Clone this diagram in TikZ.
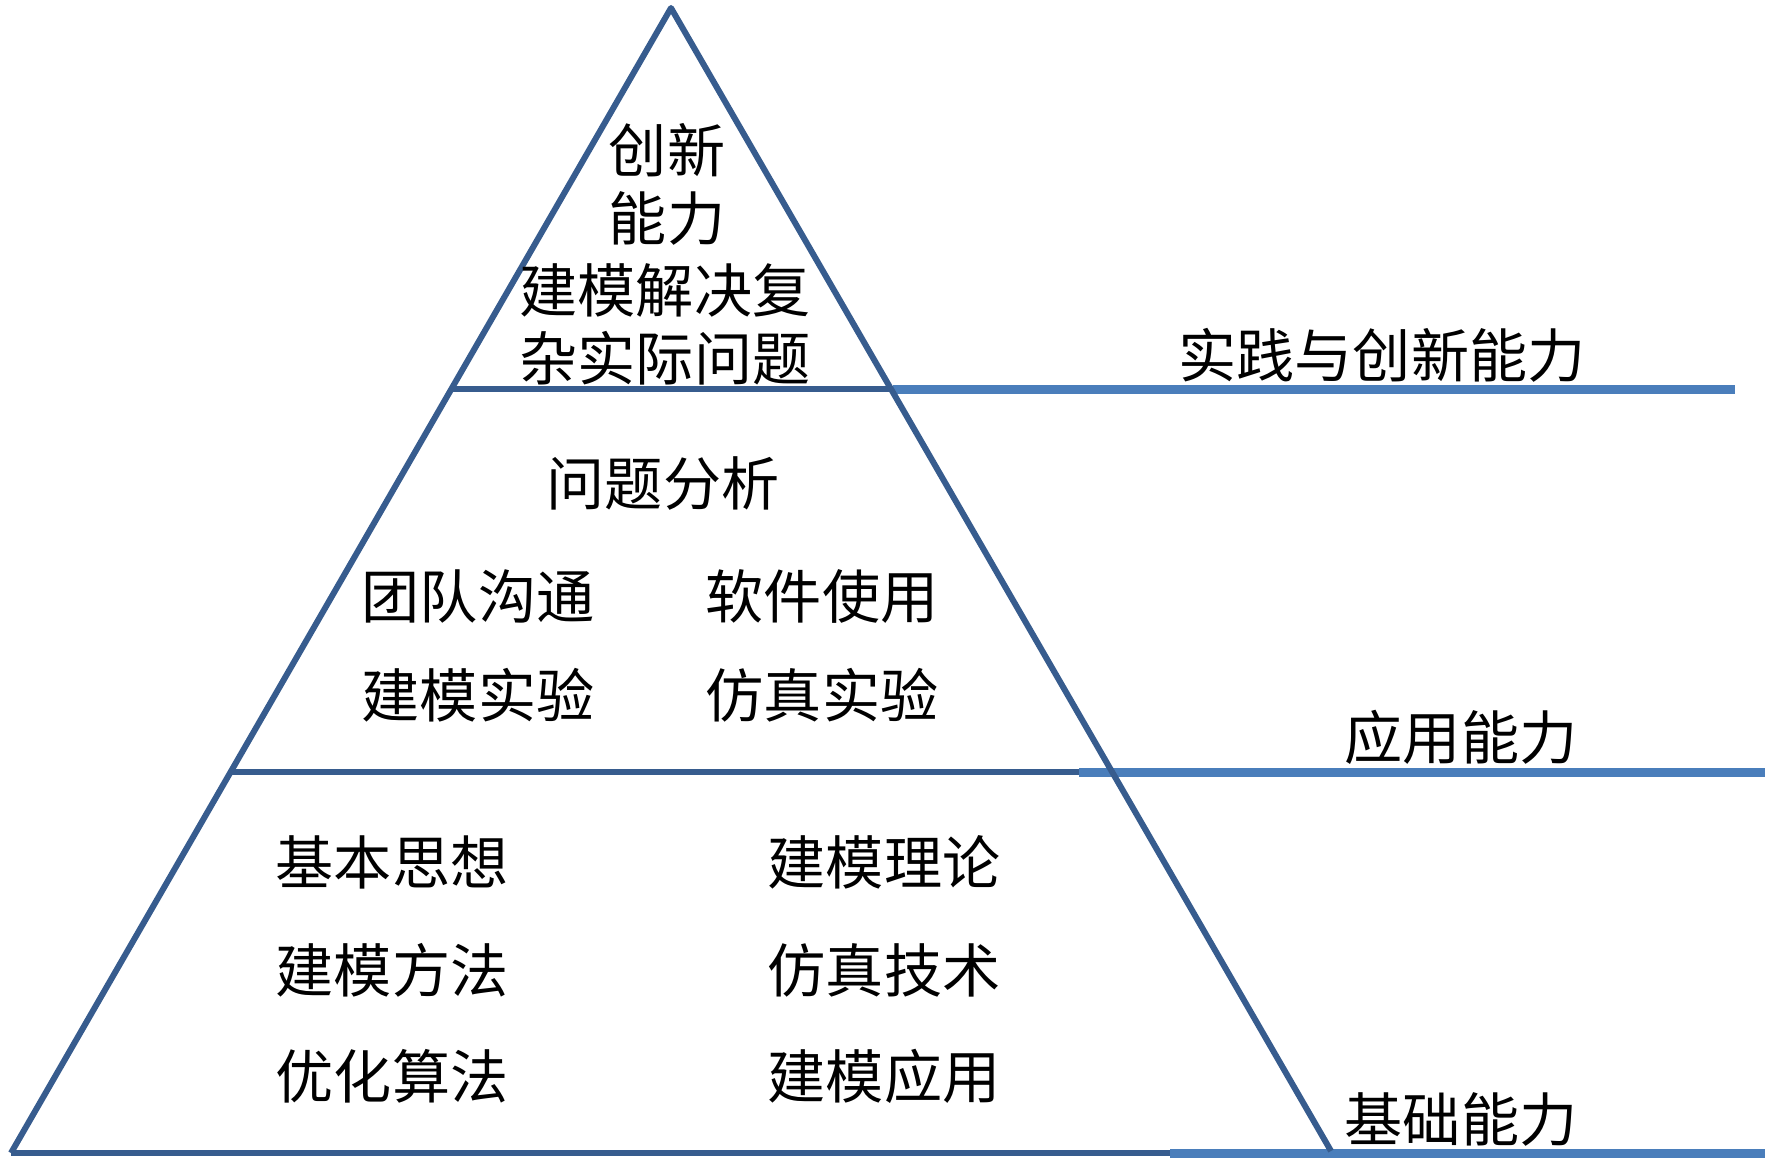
\documentclass[tikz,border=0pt]{standalone}
\usepackage{fontspec}
\newfontfamily\cjk{Noto Sans CJK SC}[Scale=1.02]
\definecolor{tri}{HTML}{375C8E}
\definecolor{lvl}{HTML}{4A7EBB}
\begin{document}
\begin{tikzpicture}[x=1pt,y=-1pt,
  lab/.style={inner sep=0pt,font=\cjk\fontsize{57}{62}\selectfont,align=center},
  edge/.style={draw=tri,line width=6pt,line join=round},
  level/.style={draw=lvl,line width=9pt}]
\useasboundingbox (0,0) rectangle (1772,1164);
% coordinates
\coordinate (apex) at (671,8);
\coordinate (bl) at (11,1153);
\coordinate (br) at (1331,1151);
\coordinate (l1a) at (450,389);
\coordinate (l1b) at (893,389);
\coordinate (l1c) at (1735,389);
\coordinate (l2a) at (232,772);
\coordinate (l2b) at (1079,772);
\coordinate (l2c) at (1765,772);
\coordinate (l3b) at (1170,1153);
\coordinate (l3c) at (1765,1153);
% level lines (light)
\draw[level] (l1b) -- (l1c);
\draw[level] (l2b) -- (l2c);
\draw[level] (l3b) -- (l3c);
% triangle
\draw[edge] (bl) -- (apex) -- (br);
\draw[edge] (l1a) -- (l1b);
\draw[edge] (l2a) -- (l2b);
\draw[edge] (bl) -- (l3b);
% texts
\node[lab] (t1) at (667,150) {创新};
\node[lab] (t2) at (667,218) {能力};
\node[lab] (t3) at (665,290) {建模解决复};
\node[lab] (t4) at (665,358) {杂实际问题};
\node[lab] (m0) at (663,483) {问题分析};
\node[lab] (m1) at (478,596) {团队沟通};
\node[lab] (m2) at (822,596) {软件使用};
\node[lab] (m3) at (478,695) {建模实验};
\node[lab] (m4) at (822,695) {仿真实验};
\node[lab] (b1) at (392,862) {基本思想};
\node[lab] (b2) at (884,862) {建模理论};
\node[lab] (b3) at (392,970) {建模方法};
\node[lab] (b4) at (884,970) {仿真技术};
\node[lab] (b5) at (392,1076) {优化算法};
\node[lab] (b6) at (884,1076) {建模应用};
\node[lab] (r1) at (1382,355) {实践与创新能力};
\node[lab] (r2) at (1461,737) {应用能力};
\node[lab] (r3) at (1461,1119) {基础能力};
\end{tikzpicture}
\end{document}
